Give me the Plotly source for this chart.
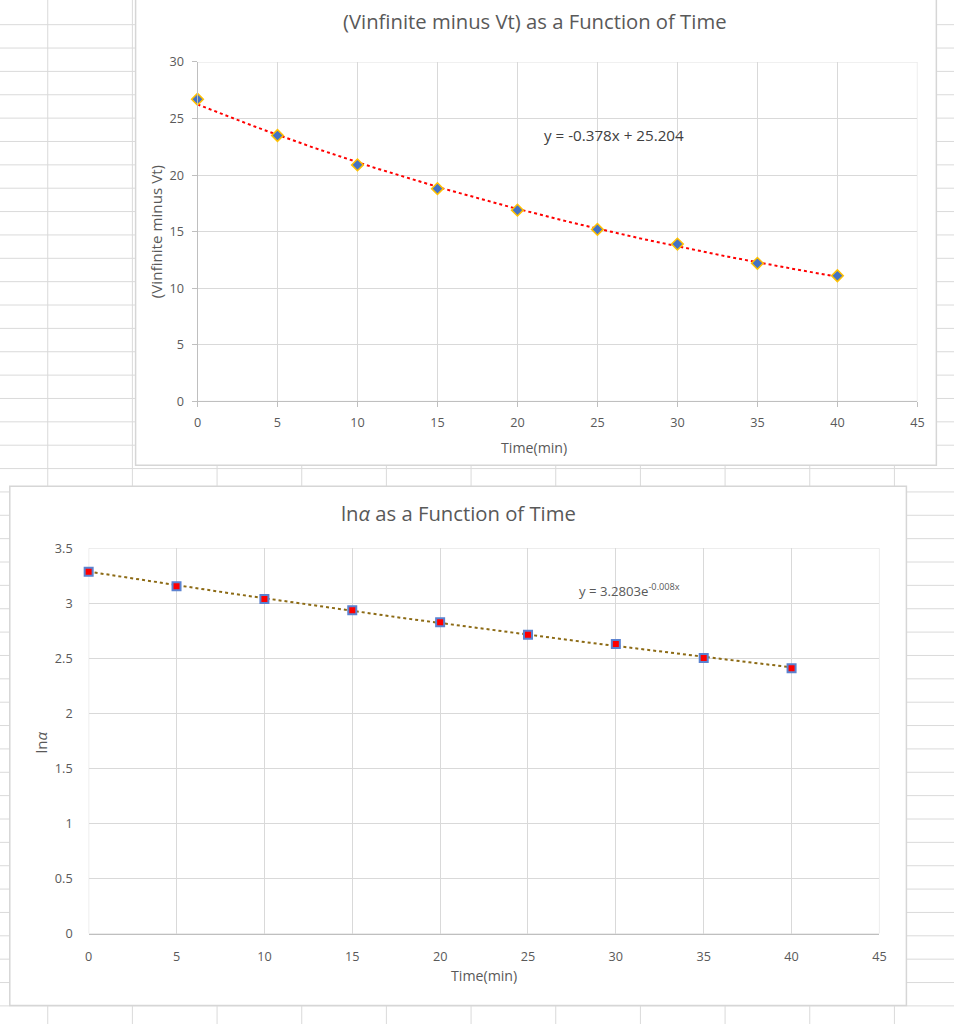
import numpy as np
import plotly.graph_objects as go

# ---------------- data ----------------
time_min = [0, 5, 10, 15, 20, 25, 30, 35, 40]
v_inf_minus_vt = [26.7, 23.5, 20.9, 18.8, 16.9, 15.2, 13.9, 12.2, 11.1]
ln_alpha = [3.285, 3.155, 3.038, 2.935, 2.828, 2.714, 2.630, 2.502, 2.410]

top_title = "(Vinfinite minus Vt) as a Function of Time"
top_ytitle = "(Vinfinite minus Vt)"
top_eq = "y = -0.378x + 25.204"
bot_title = "ln<i>α</i> as a Function of Time"
bot_ytitle = "ln<i>α</i>"
bot_eq = "y = 3.2803e<sup>-0.008x</sup>"
xtitle = "Time(min)"

top_yticks = [0, 5, 10, 15, 20, 25, 30]
bot_yticks = [0, 0.5, 1, 1.5, 2, 2.5, 3, 3.5]
bot_yticklabels = ["0", "0.5", "1", "1.5", "2", "2.5", "3", "3.5"]
xticks = [0, 5, 10, 15, 20, 25, 30, 35, 40, 45]

# ---------------- helpers ----------------
W, H = 954, 1024
FONT = "Open Sans"
# the photographed page is slightly inset; compensate so positions match
AX, BX = 3.2, 0.990
AY, BY = 8.0, 0.984
FS = 1 / ((BX + BY) / 2)


def PX(x):
    return ((x - AX) / BX) / W


def PY(y):
    return 1 - ((y - AY) / BY) / H


def fs(s):
    return round(s * FS, 2)


# exponential trendlines (Excel-style) fitted from the data
tx = np.array(time_min, dtype=float)
xs = np.linspace(0, 40, 200)
b1, a1 = np.polyfit(tx, np.log(v_inf_minus_vt), 1)
top_trend = np.exp(a1) * np.exp(b1 * xs)
b2, a2 = np.polyfit(tx, np.log(ln_alpha), 1)
bot_trend = np.exp(a2) * np.exp(b2 * xs)

fig = go.Figure()

# top chart traces
fig.add_trace(go.Scatter(x=xs, y=top_trend, mode="lines",
                         line=dict(color="#FF0000", width=2, dash="dot"),
                         xaxis="x", yaxis="y", showlegend=False, hoverinfo="skip"))
fig.add_trace(go.Scatter(x=time_min, y=v_inf_minus_vt, mode="markers", cliponaxis=False,
                         marker=dict(symbol="diamond", size=9, color="#4472C4",
                                     line=dict(color="#FFC000", width=1.5)),
                         xaxis="x", yaxis="y", showlegend=False))
# bottom chart traces
fig.add_trace(go.Scatter(x=xs, y=bot_trend, mode="lines",
                         line=dict(color="#8C6A14", width=2, dash="dot"),
                         xaxis="x2", yaxis="y2", showlegend=False, hoverinfo="skip"))
fig.add_trace(go.Scatter(x=time_min, y=ln_alpha, mode="markers", cliponaxis=False,
                         marker=dict(symbol="square", size=8, color="#FF0000",
                                     line=dict(color="#5B82D0", width=2)),
                         xaxis="x2", yaxis="y2", showlegend=False))

# ---------------- spreadsheet background ----------------
row_ys = [22.7 + 23.4 * k for k in range(43)]
col_xs = [47 + 84.8 * k for k in range(11)]
path = ""
for ry in row_ys:
    path += f"M{PX(-20):.5f},{PY(ry):.5f} L{PX(980):.5f},{PY(ry):.5f} "
for cx in col_xs:
    path += f"M{PX(cx):.5f},{PY(-20):.5f} L{PX(cx):.5f},{PY(1050):.5f} "

grid = "#d9d9d9"

shapes = [
    dict(type="path", path=path, xref="paper", yref="paper",
         line=dict(color="#dadada", width=1), layer="below"),
    dict(type="rect", xref="paper", yref="paper",
         x0=PX(135), x1=PX(937), y0=PY(464), y1=PY(-12),
         fillcolor="white", line=dict(color="#d6d6d6", width=1.5), layer="below"),
    dict(type="rect", xref="paper", yref="paper",
         x0=PX(9), x1=PX(907), y0=PY(1005), y1=PY(485),
         fillcolor="white", line=dict(color="#d6d6d6", width=1.5), layer="below"),
    # plot-area outlines (grid coloured edges)
    dict(type="rect", xref="x", yref="y", x0=0, x1=45, y0=0, y1=30,
         line=dict(color=grid, width=1), layer="below"),
    dict(type="rect", xref="x2", yref="y2", x0=0, x1=45, y0=0, y1=3.5,
         line=dict(color=grid, width=1), layer="below"),
]

tickfont = dict(family=FONT, size=fs(12.5), color="#595959")
gray = "#595959"

annotations = [
    dict(text=top_title, x=PX(535), y=PY(19), xref="paper", yref="paper",
         showarrow=False, font=dict(family=FONT, size=fs(20), color=gray),
         xanchor="center", yanchor="middle"),
    dict(text=top_ytitle, x=PX(155), y=PY(230), xref="paper", yref="paper",
         showarrow=False, textangle=-90, font=dict(family=FONT, size=fs(15), color=gray),
         xanchor="center", yanchor="middle"),
    dict(text=xtitle, x=PX(534), y=PY(446), xref="paper", yref="paper",
         showarrow=False, font=dict(family=FONT, size=fs(14), color=gray),
         xanchor="center", yanchor="middle"),
    dict(text=top_eq, x=PX(614), y=PY(133), xref="paper", yref="paper",
         showarrow=False, font=dict(family=FONT, size=fs(15), color="#404040"),
         xanchor="center", yanchor="middle"),
    dict(text=bot_title, x=PX(458), y=PY(512), xref="paper", yref="paper",
         showarrow=False, font=dict(family=FONT, size=fs(20), color=gray),
         xanchor="center", yanchor="middle"),
    dict(text=bot_ytitle, x=PX(40), y=PY(742), xref="paper", yref="paper",
         showarrow=False, textangle=-90, font=dict(family=FONT, size=fs(15), color=gray),
         xanchor="center", yanchor="middle"),
    dict(text=xtitle, x=PX(484), y=PY(975), xref="paper", yref="paper",
         showarrow=False, font=dict(family=FONT, size=fs(14), color=gray),
         xanchor="center", yanchor="middle"),
    dict(text=bot_eq, x=PX(630), y=PY(589), xref="paper", yref="paper",
         showarrow=False, font=dict(family=FONT, size=fs(13), color=gray),
         xanchor="center", yanchor="middle"),
]

fig.update_layout(
    width=W, height=H, autosize=False,
    margin=dict(l=0, r=0, t=0, b=0, pad=0),
    paper_bgcolor="white", plot_bgcolor="white",
    showlegend=False,
    shapes=shapes, annotations=annotations,
    xaxis=dict(domain=[PX(197), PX(918)], range=[0, 45], tickvals=xticks,
               showgrid=True, gridcolor=grid, gridwidth=1, zeroline=False,
               showline=True, linecolor="#bfbfbf", linewidth=1,
               ticks="outside", ticklen=5, tickcolor="#bfbfbf",
               tickfont=tickfont, ticklabelstandoff=4, anchor="y", fixedrange=True),
    yaxis=dict(domain=[PY(400), PY(60)], range=[0, 30], tickvals=top_yticks,
               showgrid=True, gridcolor=grid, gridwidth=1, zeroline=False,
               showline=True, linecolor="#bfbfbf", linewidth=1,
               ticks="outside", ticklen=5, tickcolor="#bfbfbf",
               tickfont=tickfont, ticklabelstandoff=5, anchor="x", fixedrange=True),
    xaxis2=dict(domain=[PX(88), PX(880)], range=[0, 45], tickvals=xticks,
                showgrid=True, gridcolor=grid, gridwidth=1, zeroline=False,
                showline=True, linecolor="#bfbfbf", linewidth=1,
                ticks="", tickfont=tickfont, ticklabelstandoff=11,
                anchor="y2", fixedrange=True),
    yaxis2=dict(domain=[PY(933), PY(547)], range=[0, 3.5], tickvals=bot_yticks,
                ticktext=bot_yticklabels,
                showgrid=True, gridcolor=grid, gridwidth=1, zeroline=False,
                showline=False, ticks="", tickfont=tickfont, ticklabelstandoff=15,
                anchor="x2", fixedrange=True),
)

fig.write_html("out.html")
